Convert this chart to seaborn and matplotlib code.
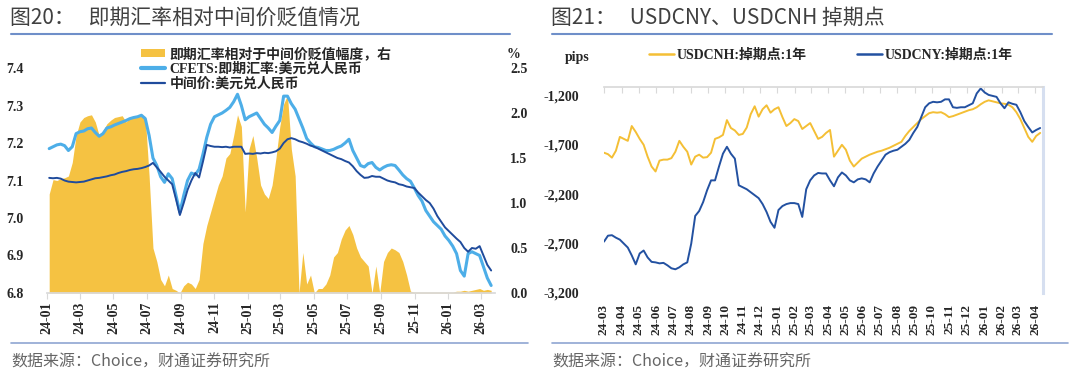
import matplotlib
matplotlib.use("Agg")
import matplotlib.pyplot as plt
import matplotlib.dates as mdates
from matplotlib.lines import Line2D
from matplotlib.patches import Patch
from matplotlib.font_manager import FontProperties
from matplotlib.ticker import FuncFormatter
import pandas as pd
import seaborn as sns

# ---------------- data: figure 20 (weekly readings, 2024-01-05 .. 2026-03-20)
spot_rate = [
    7.185, 7.19, 7.195, 7.197, 7.193, 7.18, 7.19, 7.225, 7.23, 7.232,
    7.238, 7.24, 7.228, 7.218, 7.225, 7.24, 7.243, 7.248, 7.252, 7.256,
    7.26, 7.265, 7.268, 7.27, 7.274, 7.265, 7.22, 7.16, 7.14, 7.11,
    7.095, 7.118, 7.105, 7.06, 7.015, 7.06, 7.10, 7.12, 7.115, 7.13,
    7.17, 7.215, 7.25, 7.27, 7.275, 7.28, 7.287, 7.295, 7.31, 7.33,
    7.30, 7.262, 7.27, 7.275, 7.28, 7.265, 7.25, 7.24, 7.228, 7.245,
    7.26, 7.325, 7.325, 7.305, 7.29, 7.265, 7.24, 7.212, 7.20, 7.19,
    7.188, 7.184, 7.18, 7.18, 7.183, 7.188, 7.192, 7.20, 7.21, 7.18,
    7.16, 7.14, 7.136, 7.145, 7.148, 7.135, 7.128, 7.135, 7.14, 7.142,
    7.14, 7.128, 7.115, 7.105, 7.098, 7.08, 7.06, 7.045, 7.02, 7.005,
    6.99, 6.98, 6.97, 6.952, 6.94, 6.925, 6.905, 6.86, 6.845, 6.905,
    6.91, 6.905, 6.9, 6.87, 6.84, 6.82,
]
central_parity = [
    7.107, 7.106, 7.107, 7.105, 7.10, 7.097, 7.096, 7.095, 7.096, 7.097,
    7.10, 7.103, 7.106, 7.107, 7.109, 7.111, 7.114, 7.116, 7.12, 7.123,
    7.125, 7.128, 7.13, 7.131, 7.133, 7.136, 7.14, 7.147, 7.135, 7.123,
    7.11, 7.10, 7.09, 7.05, 7.008, 7.04, 7.075, 7.10, 7.12, 7.108,
    7.15, 7.195, 7.192, 7.19, 7.19, 7.189, 7.19, 7.188, 7.19, 7.19,
    7.19, 7.171, 7.172, 7.171, 7.173, 7.172, 7.174, 7.173, 7.175, 7.178,
    7.185, 7.20, 7.21, 7.213, 7.21, 7.205, 7.202, 7.198, 7.193, 7.19,
    7.185, 7.18, 7.175, 7.17, 7.165, 7.16, 7.157, 7.152, 7.148, 7.138,
    7.125, 7.115, 7.107, 7.108, 7.112, 7.11, 7.11, 7.105, 7.10, 7.097,
    7.095, 7.09, 7.088, 7.084, 7.082, 7.08, 7.068, 7.058, 7.048, 7.04,
    7.025, 7.005, 6.99, 6.975, 6.965, 6.955, 6.945, 6.936, 6.92, 6.91,
    6.92, 6.918, 6.925, 6.9, 6.875, 6.86,
]
depreciation = [
    1.1, 1.26, 1.25, 1.27, 1.28, 1.3, 1.45, 1.75, 1.9, 1.95,
    1.97, 1.98, 1.9, 1.75, 1.8, 1.88, 1.92, 1.95, 1.96, 1.97,
    1.9, 1.95, 1.96, 1.97, 1.98, 1.96, 1.3, 0.5, 0.35, 0.15,
    0.08, 0.2, 0.05, 0.03, 0.0, 0.08, 0.12, 0.1, 0.05, 0.15,
    0.55, 0.75, 0.9, 1.05, 1.2, 1.3, 1.5, 1.55, 1.75, 1.98,
    1.85, 0.9, 1.6, 1.75, 1.5, 1.2, 1.1, 1.05, 1.2, 1.5,
    1.85, 2.1, 2.2, 1.6, 1.3, 0.0, 0.45, 0.1, 0.2, 0.0,
    0.05, 0.05, 0.1, 0.2, 0.4, 0.45, 0.6, 0.7, 0.75, 0.65,
    0.5, 0.4, 0.35, 0.3, 0.0, 0.3, 0.0, 0.35, 0.45, 0.5,
    0.48, 0.45, 0.35, 0.2, 0.02, 0.01, 0.01, 0.01, 0.01, 0.01,
    0.01, 0.01, 0.01, 0.01, 0.01, 0.01, 0.02, 0.02, 0.03, 0.02,
    0.03, 0.04, 0.05, 0.03, 0.04, 0.03,
]
dates_20 = pd.date_range("2024-01-05", periods=len(spot_rate), freq="7D")

# ---------------- data: figure 21 (weekly readings, 2024-03-01 .. 2026-04-10)
cnh_swap = [
    -1780, -1795, -1830, -1760, -1620, -1640, -1660, -1510, -1570, -1640,
    -1700, -1820, -1920, -1970, -1860, -1850, -1850, -1835, -1770, -1660,
    -1720, -1770, -1900, -1820, -1800, -1830, -1825, -1780, -1640, -1625,
    -1600, -1450, -1530, -1555, -1600, -1590, -1525, -1390, -1310, -1415,
    -1340, -1300, -1375, -1340, -1320, -1420, -1510, -1480, -1440, -1460,
    -1540, -1510, -1480, -1560, -1640, -1620, -1580, -1550, -1820, -1760,
    -1700, -1750, -1860, -1920, -1880, -1840, -1820, -1800, -1785, -1770,
    -1760, -1745, -1730, -1710, -1690, -1670, -1610, -1560, -1520, -1480,
    -1440, -1410, -1380, -1370, -1375, -1370, -1390, -1420, -1410, -1395,
    -1380, -1365, -1350, -1340, -1320, -1290, -1265, -1250, -1260, -1270,
    -1280, -1285, -1295, -1320, -1370, -1440, -1530, -1620, -1670, -1610,
    -1580,
]
cny_swap = [
    -2680, -2620, -2615, -2640, -2660, -2700, -2740, -2820, -2910, -2800,
    -2770, -2840, -2885, -2890, -2900, -2895, -2920, -2950, -2960, -2940,
    -2910, -2890, -2700, -2420, -2370, -2280, -2160, -2060, -2060, -1920,
    -1790, -1720, -1790, -1840, -2110, -2130, -2150, -2180, -2210, -2240,
    -2300, -2380, -2480, -2540, -2360, -2320, -2300, -2290, -2290, -2300,
    -2430, -2150, -2060, -2010, -1985, -1990, -1990, -2060, -2120, -2030,
    -1980, -2010, -2060, -2080, -2050, -2040, -2050, -2080, -1990, -1920,
    -1860, -1800, -1775, -1760, -1750, -1720, -1690, -1650, -1580, -1520,
    -1420, -1320, -1280, -1265, -1270, -1265, -1240, -1240, -1320, -1326,
    -1320, -1320, -1300, -1280, -1180, -1130, -1170, -1195, -1205, -1215,
    -1280, -1330, -1270, -1285, -1295, -1370, -1460, -1520, -1575, -1550,
    -1530,
]
dates_21 = pd.date_range("2024-03-01", periods=len(cnh_swap), freq="7D")

labels_20 = ["即期汇率相对于中间价贬值幅度，右", "CFETS:即期汇率:美元兑人民币", "中间价:美元兑人民币"]
labels_21 = ["USDCNH:掉期点:1年", "USDCNY:掉期点:1年"]

YELLOW = "#f5c242"
LIGHT_BLUE = "#4daee8"
DARK_BLUE = "#1f4b9c"
CNH_YELLOW = "#f4bf35"
CNY_BLUE = "#2351a1"
SPINE = "#d9d9d9"

sns.set_theme(style="white")
plt.rcParams["font.family"] = ["Liberation Serif", "Noto Sans CJK SC", "DejaVu Sans"]
plt.rcParams["axes.unicode_minus"] = False

# numbers only -> a single serif family; mixed text -> serif first, CJK after
tick_fp = FontProperties(family="Liberation Serif", weight="bold", size=10)
date_fp = FontProperties(family="Liberation Serif", weight="bold", size=9.5)
leg_fp = FontProperties(family=["Liberation Serif", "Noto Sans CJK SC"], weight="bold", size=10)
title_fp = FontProperties(family=["Noto Sans CJK SC", "DejaVu Sans"], size=15)
src_fp = FontProperties(family=["Noto Sans CJK SC", "DejaVu Sans"], size=11.5)

W, H = 1080, 376
fig = plt.figure(figsize=(W / 100, H / 100), dpi=100)


def fx(px):
    return px / W


def fy(py):
    return 1 - py / H


# ---------------- headers / footers
fig.text(fx(10), fy(18), "图20：   即期汇率相对中间价贬值情况", fontproperties=title_fp,
         color="#404040", ha="left", va="center")
fig.text(fx(551), fy(18), "图21：   USDCNY、USDCNH 掉期点", fontproperties=title_fp,
         color="#404040", ha="left", va="center")
fig.add_artist(Line2D([fx(11), fx(510)], [fy(34), fy(34)], color="#6f8fc9", lw=1.5))
fig.add_artist(Line2D([fx(552), fx(1052)], [fy(34), fy(34)], color="#6f8fc9", lw=1.5))
fig.add_artist(Line2D([fx(11), fx(528)], [fy(343), fy(343)], color="#8fa6d2", lw=1.2))
fig.add_artist(Line2D([fx(552), fx(1068)], [fy(343), fy(343)], color="#8fa6d2", lw=1.2))
fig.text(fx(11), fy(362), "数据来源：Choice，财通证券研究所", fontproperties=src_fp,
         color="#666666", ha="left", va="center")
fig.text(fx(552), fy(362), "数据来源：Choice，财通证券研究所", fontproperties=src_fp,
         color="#666666", ha="left", va="center")

# ---------------- figure 20
ax = fig.add_axes([fx(47), fy(293), fx(495 - 47), (293 - 68) / H])
ax2 = ax.twinx()
ax.set_zorder(ax2.get_zorder() + 1)
ax.patch.set_visible(False)

ax2.fill_between(dates_20, 0, depreciation, color=YELLOW, lw=0)
df20 = pd.DataFrame({"date": dates_20, "spot": spot_rate, "mid": central_parity})
sns.lineplot(data=df20, x="date", y="spot", ax=ax, color=LIGHT_BLUE, lw=2.2)
sns.lineplot(data=df20, x="date", y="mid", ax=ax, color=DARK_BLUE, lw=1.4)

ax.set_xlim(pd.Timestamp("2024-01-01"), pd.Timestamp("2026-03-27"))
ax.set_ylim(6.8, 7.4)
ax2.set_ylim(0, 2.5)
ax.set_yticks([6.8, 6.9, 7.0, 7.1, 7.2, 7.3, 7.4])
ax.yaxis.set_major_formatter(FuncFormatter(lambda v, p: f"{v:.1f}"))
ax2.set_yticks([0, 0.5, 1.0, 1.5, 2.0, 2.5])
ax2.yaxis.set_major_formatter(FuncFormatter(lambda v, p: f"{v:.1f}"))
ax.set_xticks(pd.date_range("2024-01-01", "2026-03-01", freq="2MS"))
ax.xaxis.set_major_formatter(mdates.DateFormatter("%y-%m"))
ax.set_xlabel("")
ax.set_ylabel("")
ax2.set_ylabel("")

for a in (ax, ax2):
    for s in a.spines.values():
        s.set_visible(False)
ax.spines["bottom"].set_visible(True)
ax.spines["bottom"].set_color(SPINE)
ax.tick_params(axis="x", bottom=True, direction="out", length=4, width=0.8, color=SPINE, pad=2)
ax.tick_params(axis="y", left=False, pad=11)
ax2.tick_params(axis="y", right=False, pad=5)
for t in ax.get_xticklabels():
    t.set_fontproperties(date_fp)
    t.set_fontsize(10)
    t.set_rotation(90)
for t in ax.get_yticklabels() + ax2.get_yticklabels():
    t.set_fontproperties(tick_fp)
ax.grid(False)
ax2.grid(False)

handles_20 = [Patch(facecolor=YELLOW, edgecolor="none"),
              Line2D([], [], color=LIGHT_BLUE, lw=3),
              Line2D([], [], color=DARK_BLUE, lw=1.6)]
ax.legend(handles_20, labels_20, loc="upper left", bbox_to_anchor=(fx(141), fy(47)),
          bbox_transform=fig.transFigure, frameon=False, prop=leg_fp, handlelength=1.75,
          handleheight=0.55, handletextpad=0.3, labelspacing=0.1, borderpad=0, borderaxespad=0)
fig.text(fx(513), fy(55), "%", fontproperties=tick_fp, ha="center", va="center")

# ---------------- figure 21
bx = fig.add_axes([fx(604), fy(293), fx(1043 - 604), (293 - 87) / H])
df21 = pd.DataFrame({"date": dates_21, "cnh": cnh_swap, "cny": cny_swap})
sns.lineplot(data=df21, x="date", y="cnh", ax=bx, color=CNH_YELLOW, lw=1.4)
sns.lineplot(data=df21, x="date", y="cny", ax=bx, color=CNY_BLUE, lw=1.4)

bx.set_xlim(pd.Timestamp("2024-03-01"), pd.Timestamp("2026-04-15"))
bx.set_ylim(-3200, -1115)
bx.set_yticks([-3200, -2700, -2200, -1700, -1200])
bx.yaxis.set_major_formatter(FuncFormatter(lambda v, p: f"{int(v):,}"))
bx.set_xticks(pd.date_range("2024-03-01", "2026-04-01", freq="MS"))
bx.xaxis.set_major_formatter(mdates.DateFormatter("%y-%m"))
bx.set_xlabel("")
bx.set_ylabel("")
for s in bx.spines.values():
    s.set_visible(False)
bx.spines["top"].set_visible(True)
bx.spines["top"].set_color(SPINE)
bx.spines["right"].set_visible(True)
bx.spines["right"].set_color("#d6dff0")
bx.spines["right"].set_linewidth(2.2)
bx.tick_params(axis="x", top=True, bottom=False, labeltop=False, labelbottom=True,
               direction="in", length=4, width=0.8, color=SPINE, pad=8)
bx.tick_params(axis="y", left=False, pad=12)
for t in bx.get_xticklabels():
    t.set_fontproperties(date_fp)
    t.set_rotation(90)
for t in bx.get_yticklabels():
    t.set_fontproperties(tick_fp)
bx.grid(False)

handles_21 = [Line2D([], [], color=CNH_YELLOW, lw=1.8), Line2D([], [], color=CNY_BLUE, lw=1.8)]
bx.legend(handles_21, labels_21, loc="upper left", bbox_to_anchor=(fx(649), fy(49)),
          bbox_transform=fig.transFigure, frameon=False, prop=leg_fp, ncol=2,
          handlelength=1.8, handletextpad=0.2, columnspacing=3.6, borderpad=0, borderaxespad=0)
fig.text(fx(577), fy(58), "pips", fontproperties=tick_fp, ha="center", va="center")

fig.savefig("out.png", dpi=100)
